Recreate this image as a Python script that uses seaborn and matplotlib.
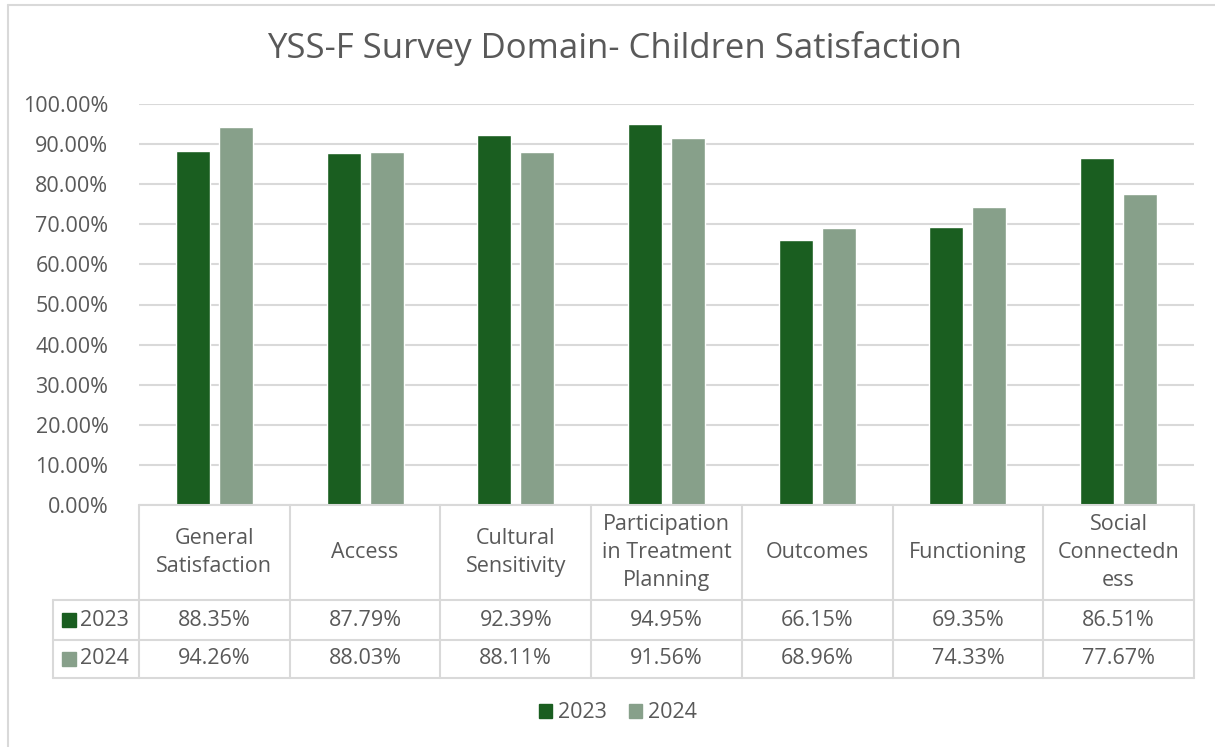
import matplotlib
matplotlib.use("Agg")
import matplotlib.pyplot as plt
import matplotlib.transforms as mtransforms
from matplotlib.patches import Rectangle
from matplotlib.lines import Line2D
import seaborn as sns
import pandas as pd

categories = ["General\nSatisfaction", "Access", "Cultural\nSensitivity",
              "Participation\nin Treatment\nPlanning", "Outcomes", "Functioning",
              "Social\nConnectedn\ness"]
years = ["2023", "2024"]
values_2023 = [88.35, 87.79, 92.39, 94.95, 66.15, 69.35, 86.51]
values_2024 = [94.26, 88.03, 88.11, 91.56, 68.96, 74.33, 77.67]
y_ticks = [0, 10, 20, 30, 40, 50, 60, 70, 80, 90, 100]

colors = {"2023": "#1a5e20", "2024": "#87a08a"}
text_color = "#595959"
grid_color = "#d9d9d9"

df = pd.DataFrame({
    "category": categories * 2,
    "year": [years[0]] * len(categories) + [years[1]] * len(categories),
    "value": values_2023 + values_2024,
})

sns.set_theme(style="white")
plt.rcParams["font.family"] = ["Open Sans", "DejaVu Sans"]

W, H = 1215, 747
fig = plt.figure(figsize=(W / 100, H / 100), dpi=100)
ax = fig.add_axes([139 / W, 1 - 505 / H, (1194 - 139) / W, (505 - 104) / H])

sns.barplot(data=df, x="category", y="value", hue="year", order=categories,
            hue_order=years, palette=colors, width=0.57, gap=0.21,
            saturation=1, ax=ax, legend=False)

fs = 15.5
ax.set_ylim(0, 100)
ax.set_xlim(-0.5, len(categories) - 0.5)
ax.set_yticks(y_ticks)
ax.set_yticklabels([f"{v:.2f}%" for v in y_ticks], color=text_color, fontsize=fs)
ax.tick_params(axis="y", length=0, pad=22)
ax.set_xticks([])
ax.set_xlabel("")
ax.set_ylabel("")
ax.yaxis.grid(True, color=grid_color, linewidth=1.5)
ax.set_axisbelow(True)
for s in ax.spines.values():
    s.set_visible(False)

# data table under the axis
trans = mtransforms.blended_transform_factory(ax.transData, ax.transAxes)
axh = 505 - 104
y_head = -(600 - 505) / axh
y_r1 = -(640 - 505) / axh
y_r2 = -(678 - 505) / axh
x_left_ax = (53 - 139) / (1194 - 139)
lw = 1.5

ax.add_line(Line2D([-0.5, len(categories) - 0.5], [0, 0], transform=trans,
                   color=grid_color, lw=lw, clip_on=False))
for yy in (y_head, y_r1, y_r2):
    ax.add_line(Line2D([x_left_ax, 1], [yy, yy], transform=ax.transAxes,
                       color=grid_color, lw=lw, clip_on=False))
for i in range(len(categories) + 1):
    x = i - 0.5
    ax.add_line(Line2D([x, x], [0, y_r2], transform=trans, color=grid_color,
                       lw=lw, clip_on=False))
ax.add_line(Line2D([x_left_ax, x_left_ax], [y_head, y_r2], transform=ax.transAxes,
                   color=grid_color, lw=lw, clip_on=False))

for i, cat in enumerate(categories):
    ax.text(i, y_head / 2, cat, transform=trans, ha="center", va="center",
            fontsize=fs, color=text_color, linespacing=1.45, clip_on=False)
    ax.text(i, (y_head + y_r1) / 2, f"{values_2023[i]:.2f}%", transform=trans,
            ha="center", va="center", fontsize=fs, color=text_color, clip_on=False)
    ax.text(i, (y_r1 + y_r2) / 2, f"{values_2024[i]:.2f}%", transform=trans,
            ha="center", va="center", fontsize=fs, color=text_color, clip_on=False)

# series keys in the table's row headers
for (ya, yb), yr in zip([(y_head, y_r1), (y_r1, y_r2)], years):
    yc = (ya + yb) / 2
    sq_h = 14 / axh
    ax.add_patch(Rectangle((x_left_ax + 9 / 1055, yc - sq_h / 2), 14 / 1055, sq_h,
                           transform=ax.transAxes, color=colors[yr], clip_on=False))
    ax.text(x_left_ax + 27 / 1055, yc, yr, transform=ax.transAxes, ha="left",
            va="center", fontsize=fs, color=text_color, clip_on=False)

# legend
handles = [Rectangle((0, 0), 1, 1, color=colors[y]) for y in years]
fig.legend(handles, years, loc="center", bbox_to_anchor=(618 / W, 1 - 713 / H),
           ncol=2, frameon=False, fontsize=fs, handlelength=0.6, handleheight=0.6,
           handletextpad=0.3, columnspacing=1.0, labelcolor=text_color)

fig.text(615 / W, 1 - 48 / H, "YSS-F Survey Domain- Children Satisfaction",
         ha="center", va="center", fontsize=25, color=text_color)

# outer chart border
fig.add_artist(Line2D([8 / W, 8 / W], [0, 1 - 5 / H], transform=fig.transFigure,
                      color=grid_color, lw=1.5))
fig.add_artist(Line2D([8 / W, 1], [1 - 5 / H, 1 - 5 / H], transform=fig.transFigure,
                      color=grid_color, lw=1.5))

fig.savefig("out.png", dpi=100, facecolor="white")
